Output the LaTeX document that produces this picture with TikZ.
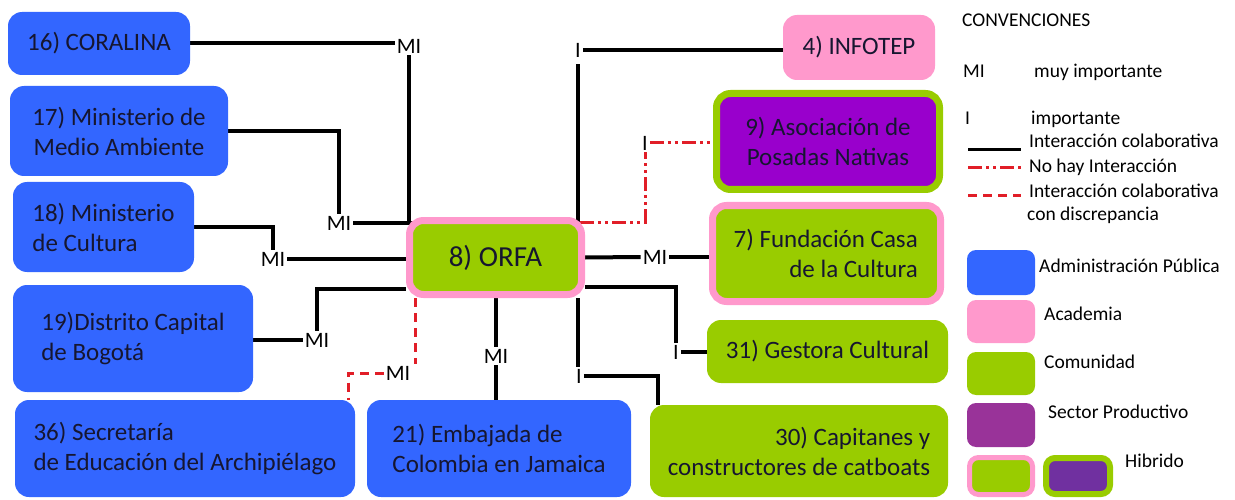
\documentclass[tikz,border=0pt]{standalone}
\usepackage{fontspec}
\setmainfont{Carlito}
\usetikzlibrary{backgrounds}
\definecolor{adminblue}{RGB}{51,102,255}
\definecolor{acadpink}{RGB}{255,153,204}
\definecolor{comungreen}{RGB}{153,204,0}
\definecolor{posadapurple}{RGB}{153,0,204}
\definecolor{sectorpurple}{RGB}{153,51,153}
\definecolor{hybpurple}{RGB}{112,48,160}
\definecolor{inkcol}{RGB}{22,22,48}
\definecolor{linkred}{RGB}{225,30,40}

\begin{document}
\begin{tikzpicture}[x=1pt,y=-1pt]

    \tikzset{boxstyle/.style={rounded corners=14pt,inner sep=0pt,text=inkcol,font=\fontsize{25}{30}\selectfont},
             admin/.style={boxstyle,fill=adminblue},
             acad/.style={boxstyle,fill=acadpink},
             comun/.style={boxstyle,fill=comungreen},
             prod/.style={boxstyle,fill=posadapurple},
             tag/.style={inner sep=2pt,font=\fontsize{22}{22}\selectfont},
             legtxt/.style={inner sep=0pt,anchor=base west,font=\fontsize{19.5}{20}\selectfont},
             swatch/.style={rounded corners=9pt,minimum width=68pt,minimum height=45pt,inner sep=0pt},
             link/.style={line width=4pt},
             nolink/.style={linkred,line width=3pt,dash pattern=on 14pt off 4pt on 3pt off 4pt on 3pt off 4pt},
             disclink/.style={linkred,line width=3pt,dash pattern=on 9pt off 6pt}}

    \useasboundingbox (0,0) rectangle (1235,500);

    % actores
    \node[admin,minimum width=182pt,minimum height=63pt] (coral) at (99,43.5) {16) CORALINA};
    \node[admin,minimum width=218pt,minimum height=90pt,align=center] (medio) at (119,131) {17) Ministerio de\\Medio Ambiente};
    \node[admin,minimum width=181pt,minimum height=90pt,align=left] (cult) at (103.5,227) {18) Ministerio\\de Cultura};
    \node[admin,minimum width=240pt,minimum height=107pt,align=left] (bogo) at (133,338.5) {19)Distrito Capital\\de Bogotá};
    \node[admin,minimum width=340pt,minimum height=97pt,align=left] (secre) at (185,448.5) {36) Secretaría\\de Educación del Archipiélago};
    \node[admin,minimum width=264pt,minimum height=97pt,align=left] (emba) at (499,448.5) {21) Embajada de\\Colombia en Jamaica};
    \node[comun,draw=acadpink,line width=7pt,minimum width=172pt,minimum height=74pt,font=\fontsize{29}{30}\selectfont] (orfa) at (495.5,257.5) {8) ORFA};
    \node[acad,minimum width=152pt,minimum height=65pt] (infotep) at (859,47.5) {4) INFOTEP};
    \node[prod,draw=comungreen,line width=7pt,minimum width=223pt,minimum height=96pt,align=center] (posadas) at (828,141.5) {9) Asociación de\\Posadas Nativas};
    \node[comun,draw=acadpink,line width=7pt,minimum width=228pt,minimum height=96pt] (fund) at (826.5,253.5) {};
    \node[boxstyle,anchor=east,align=right] (fundtxt) at ([xshift=-26pt]fund.east) {7) Fundación Casa\\de la Cultura};
    \node[comun,minimum width=241pt,minimum height=63pt] (gest) at (827.5,351.5) {31) Gestora Cultural};
    \node[comun,minimum width=298pt,minimum height=92pt,align=right] (capit) at (799,451) {30) Capitanes y\\constructores de catboats};

    % niveles de importancia
    \node[tag] (t16) at (409,46) {MI};
    \node[tag] (t17) at (339,223) {MI};
    \node[tag] (t18) at (273,259) {MI};
    \node[tag] (t19) at (317,340) {MI};
    \node[tag] (t36) at (398,373) {MI};
    \node[tag] (t21) at (496,356) {MI};
    \node[tag] (t30) at (579,376) {I};
    \node[tag] (t31) at (676,352) {I};
    \node[tag] (t7) at (655,257) {MI};
    \node[tag] (t9) at (645,143) {I};
    \node[tag] (t4) at (578,50) {I};

    \coordinate (onw) at ([shift={(7,5)}]orfa.north west);

    \begin{scope}[on background layer]
        \draw[link] (coral.east) -- (coral.east -| t16.west);
        \draw[link] (t16.south) -- (t16.south |- onw);
        \draw[link] (medio.east) -| (t17.north);
        \draw[link] (t17.east) -- (t17.east -| onw);
        \draw[link] (cult.east) -| (t18.north);
        \draw[link] (t18.east) -- (orfa.west |- t18.east);
        \draw[link] (bogo.east |- t19) -- (t19.west);
        \draw[link] (t19.north) |- ([shift={(0,31.5)}]orfa.west);
        \draw[disclink] ([shift={(9,0)}]orfa.south west) -- ([shift={(9,0)}]orfa.south west |- t36.north);
        \draw[disclink] (t36.west) -| ([shift={(-7,0)}]secre.north east);
        \draw[link] (orfa.south -| t21) -- (t21.north);
        \draw[link] (t21.south) -- (t21 |- emba.north);
        \draw[link] ([shift={(-7,0)}]orfa.south east) -- ([shift={(-7,0)}]orfa.south east |- t30.north);
        \draw[link] (t30.east) -| ([shift={(8,0)}]capit.north west);
        \draw[link] ([shift={(0,29.5)}]orfa.east) -| (t31.north);
        \draw[link] (t31.east) -- (gest.west |- t31.east);
        \draw[link] (orfa.east) -- (t7.west);
        \draw[link] (t7.east) -- (fund.west |- t7.east);
        \draw[nolink] ([shift={(-5,5)}]orfa.north east) -| (t9.south);
        \draw[nolink] (t9.east) -- (t9.east -| posadas.west);
        \draw[link] ([shift={(-7,5)}]orfa.north east) -- ([shift={(-7,5)}]orfa.north east |- t4.south);
        \draw[link] (t4.east) -- (infotep.west |- t4.east);
    \end{scope}

    % convenciones
    \node[legtxt] (conv) at (962,27) {CONVENCIONES};
    \node[legtxt] (kmi) at (963,78) {MI};
    \node[legtxt] (kmitxt) at (1034,78) {muy importante};
    \node[legtxt] (ki) at (965,125) {I};
    \node[legtxt] (kitxt) at (1031,125) {importante};
    \node[legtxt] (kcol) at (1029,148) {Interacción colaborativa};
    \node[legtxt] (knone) at (1029,172) {No hay Interacción};
    \node[legtxt] (kdisc) at (1029,197) {Interacción colaborativa};
    \node[legtxt] (kdisc2) at (1027,220) {con discrepancia};
    \coordinate (ka1) at (968,150); \coordinate (kb1) at (1021,150);
    \coordinate (ka2) at (968,168); \coordinate (kb2) at (1021,168);
    \coordinate (ka3) at (968,196); \coordinate (kb3) at (1021,196);
    \draw[line width=3pt] (ka1) -- (kb1);
    \draw[nolink] (ka2) -- (kb2);
    \draw[disclink] (ka3) -- (kb3);

    \node[swatch,fill=adminblue] (sw1) at (1001,272.5) {};
    \node[legtxt] (ksw1) at (1039,272) {Administración Pública};
    \node[swatch,fill=acadpink,minimum height=43pt] (sw2) at (1001,321.5) {};
    \node[legtxt] (ksw2) at (1044,320) {Academia};
    \node[swatch,fill=comungreen,minimum height=43pt] (sw3) at (1001,373.5) {};
    \node[legtxt] (ksw3) at (1044,368) {Comunidad};
    \node[swatch,fill=sectorpurple,minimum height=44pt] (sw4) at (1001,425) {};
    \node[legtxt] (ksw4) at (1048,418) {Sector Productivo};
    \node[swatch,fill=comungreen,draw=acadpink,line width=5pt,minimum width=63pt,minimum height=37pt] (sw5) at (1001,476) {};
    \node[swatch,fill=hybpurple,draw=comungreen,line width=6pt,minimum width=64pt,minimum height=36pt] (sw6) at (1078,476) {};
    \node[legtxt] (ksw5) at (1125,467) {Hibrido};

\end{tikzpicture}
\end{document}
